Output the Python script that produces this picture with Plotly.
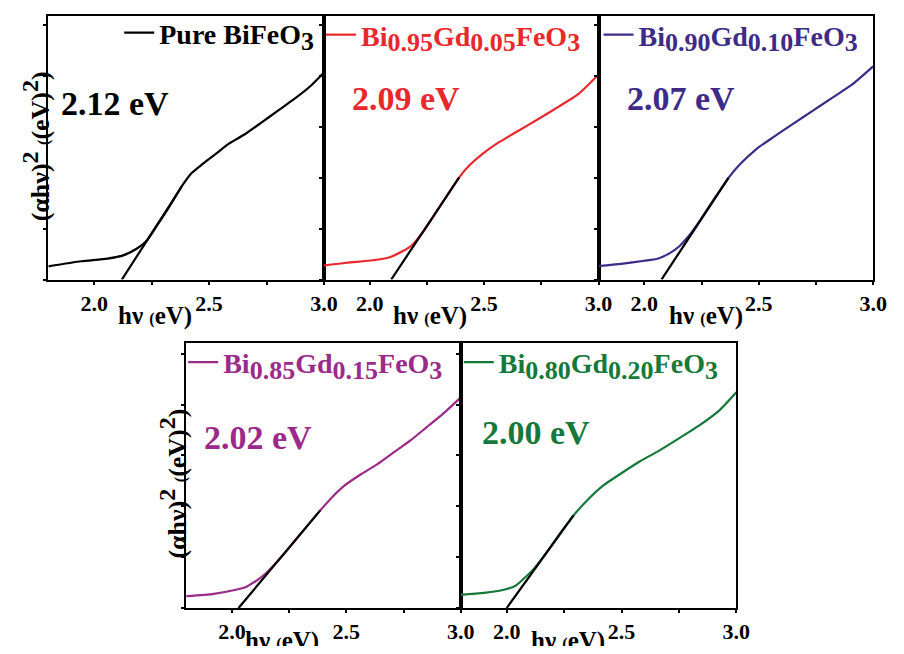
import plotly.graph_objects as go

# ---------------- data ----------------
x_pure = [1.80, 1.943, 2.057, 2.129, 2.186, 2.229, 2.271, 2.329, 2.379, 2.421, 2.471, 2.529, 2.586, 2.657, 2.729, 2.80, 2.871, 2.943, 3.00]
y_pure = [0.26, 0.36, 0.41, 0.48, 0.61, 0.77, 1.05, 1.45, 1.82, 2.08, 2.27, 2.47, 2.67, 2.86, 3.09, 3.32, 3.55, 3.81, 4.07]

x_gd05 = [1.79, 1.899, 2.014, 2.087, 2.145, 2.188, 2.232, 2.29, 2.348, 2.391, 2.435, 2.493, 2.565, 2.652, 2.739, 2.826, 2.913, 3.00]
y_gd05 = [0.27, 0.33, 0.38, 0.44, 0.56, 0.69, 0.93, 1.32, 1.72, 2.01, 2.24, 2.47, 2.70, 2.93, 3.16, 3.40, 3.65, 4.03]

x_gd10 = [1.79, 1.899, 2.00, 2.058, 2.108, 2.152, 2.195, 2.246, 2.303, 2.368, 2.419, 2.491, 2.564, 2.65, 2.737, 2.824, 2.91, 3.00]
y_gd10 = [0.26, 0.31, 0.37, 0.41, 0.51, 0.65, 0.86, 1.18, 1.57, 2.00, 2.27, 2.57, 2.80, 3.06, 3.32, 3.58, 3.84, 4.19]

x_gd15 = [1.80, 1.921, 2.007, 2.064, 2.114, 2.15, 2.207, 2.264, 2.321, 2.386, 2.436, 2.493, 2.564, 2.636, 2.707, 2.779, 2.85, 2.921, 3.00]
y_gd15 = [0.235, 0.28, 0.35, 0.42, 0.56, 0.69, 0.96, 1.26, 1.57, 1.92, 2.17, 2.41, 2.63, 2.83, 3.06, 3.29, 3.55, 3.81, 4.14]

x_gd20 = [1.794, 1.902, 1.988, 2.039, 2.075, 2.118, 2.176, 2.233, 2.291, 2.349, 2.421, 2.493, 2.579, 2.666, 2.752, 2.839, 2.925, 3.00]
y_gd20 = [0.26, 0.30, 0.36, 0.44, 0.58, 0.77, 1.11, 1.47, 1.82, 2.11, 2.41, 2.63, 2.88, 3.10, 3.34, 3.59, 3.88, 4.24]

# linear fits (tangent lines): [x_start, x_end], [y_start, y_end]
fit_x = [[2.12, 2.38], [2.094, 2.391], [2.075, 2.368], [2.029, 2.386], [2.00, 2.291]]
fit_y = [[0.0, 1.82], [0.0, 2.01], [0.0, 2.00], [0.0, 1.92], [0.0, 1.82]]

S = "<sub><span style='font-size:26px'>{}</span></sub>"
names = ["Pure BiFeO" + S.format("3"),
         "Bi" + S.format("0.95") + "Gd" + S.format("0.05") + "FeO" + S.format("3"),
         "Bi" + S.format("0.90") + "Gd" + S.format("0.10") + "FeO" + S.format("3"),
         "Bi" + S.format("0.85") + "Gd" + S.format("0.15") + "FeO" + S.format("3"),
         "Bi" + S.format("0.80") + "Gd" + S.format("0.20") + "FeO" + S.format("3")]
gaps = ["2.12 eV", "2.09 eV", "2.07 eV", "2.02 eV", "2.00 eV"]
colors = ["#000000", "#e8282c", "#3d2b87", "#9b2a8a", "#16793a"]

xs = [x_pure, x_gd05, x_gd10, x_gd15, x_gd20]
ys = [y_pure, y_gd05, y_gd10, y_gd15, y_gd20]

x_ticks = [2.0, 2.5, 3.0]
x_ticktext = ["2.0", "2.5", "3.0"]

x_title = "hν <span style='font-size:16px'>(</span>eV)"
y_title = ("(αhν)<sup><span style='font-size:24px'>2</span></sup> "
           "<span style='font-size:16px'>(</span>(eV)<sup><span style='font-size:24px'>2</span></sup>)")

# ---------------- layout helpers ----------------
# the page has an 8px body margin, so the figure is 16px smaller than the window
OFF = 8
W, H = 904 - 2 * OFF, 654 - 2 * OFF
FONT = "Liberation Serif"


def px(x):
    return (x - OFF) / W


def py(y):
    return 1 - (y - OFF) / H


# panel boxes in window pixels (left, right, top, bottom)
boxes = [(49, 329, 15, 279), (329, 608, 15, 279), (608, 887, 15, 279),
         (189, 468, 343, 608), (468, 748, 343, 608)]
y_ranges = [[0, 5.18], [0, 5.18], [0, 5.18], [0, 5.2], [0, 5.2]]

legend_pos = [(121, 32), (326, 34), (608, 34), (186, 362), (466, 362)]
gap_pos = [(117, 103), (412, 98), (692, 98), (262, 437), (544, 432)]
xtitle_pos = [(157, 315), (437, 315), (717, 315), (286, 641), (577, 641)]
ytitle_pos = [(36, 146), (176, 483)]

fig = go.Figure()
layout = dict(width=W, height=H, margin=dict(l=0, r=0, t=0, b=0),
              paper_bgcolor="white", plot_bgcolor="white", autosize=False,
              annotations=[])

for i in range(5):
    sfx = "" if i == 0 else str(i + 1)
    l, r, t, b = boxes[i]
    lg = "legend" if i == 0 else "legend" + str(i + 1)
    fig.add_trace(go.Scatter(x=xs[i], y=ys[i], mode="lines", name=names[i],
                             line=dict(color=colors[i], width=2.2, shape="spline", smoothing=0.6),
                             xaxis="x" + sfx, yaxis="y" + sfx, legend=lg,
                             showlegend=True))
    fig.add_trace(go.Scatter(x=fit_x[i], y=fit_y[i], mode="lines",
                             line=dict(color="black", width=2.2),
                             xaxis="x" + sfx, yaxis="y" + sfx, showlegend=False))
    layout["xaxis" + sfx] = dict(
        domain=[px(l), px(r)], anchor="y" + sfx, range=[1.8, 3.0],
        tickmode="array", tickvals=x_ticks, ticktext=x_ticktext,
        ticks="outside", ticklen=3, tickwidth=1.5, tickcolor="black",
        minor=dict(dtick=0.25, tick0=0, ticks="outside", ticklen=3, tickwidth=1.5, tickcolor="black"),
        showline=True, linewidth=2, linecolor="black", mirror=True,
        showgrid=False, zeroline=False, ticklabelstandoff=0,
        tickfont=dict(family=FONT, size=22, color="black", weight="bold"))
    layout["yaxis" + sfx] = dict(
        domain=[py(b), py(t)], anchor="x" + sfx, range=y_ranges[i],
        tickmode="linear", tick0=0, dtick=1, showticklabels=False,
        ticks="outside", ticklen=3, tickwidth=1.5, tickcolor="black",
        showline=True, linewidth=2, linecolor="black", mirror=True,
        showgrid=False, zeroline=False)
    lx, ly = legend_pos[i]
    layout[lg] = dict(x=px(lx), y=py(ly), xanchor="left", yanchor="middle",
                      bgcolor="rgba(0,0,0,0)", borderwidth=0,
                      font=dict(family=FONT, size=28, color=colors[i], weight="bold"),
                      tracegroupgap=0, itemwidth=30)
    gx, gy = gap_pos[i]
    layout["annotations"].append(dict(
        text=gaps[i], x=px(gx), y=py(gy), xref="paper", yref="paper",
        xanchor="center", yanchor="middle", showarrow=False,
        font=dict(family=FONT, size=34, color=colors[i], weight="bold")))
    tx, ty = xtitle_pos[i]
    layout["annotations"].append(dict(
        text=x_title, x=px(tx), y=py(ty),
        xref="paper", yref="paper", xanchor="center", yanchor="middle", showarrow=False,
        font=dict(family=FONT, size=25, color="black", weight="bold")))

for (tx, ty) in ytitle_pos:
    layout["annotations"].append(dict(
        text=y_title, x=px(tx), y=py(ty), xref="paper", yref="paper", textangle=-90,
        xanchor="center", yanchor="middle", showarrow=False,
        font=dict(family=FONT, size=26, color="black", weight="bold")))

fig.update_layout(**layout)
fig.write_html("out.html", config={"displayModeBar": False})
